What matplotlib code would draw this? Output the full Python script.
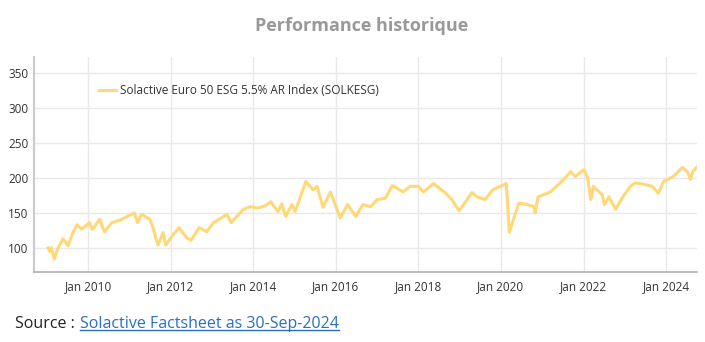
import numpy as np
import matplotlib
matplotlib.use('Agg')
import matplotlib.pyplot as plt
import matplotlib.dates as mdates
import pandas as pd
from matplotlib.lines import Line2D

plt.rcParams['font.family'] = ['Open Sans', 'DejaVu Sans']

# values
dates = ['2009-01-12', '2009-01-28', '2009-02-10', '2009-03-08', '2009-04-10',
         '2009-05-25', '2009-07-08', '2009-08-20', '2009-09-25', '2009-11-05',
         '2010-01-15', '2010-02-08', '2010-04-15', '2010-05-25', '2010-07-30',
         '2010-10-15', '2010-12-15', '2011-02-15', '2011-03-15', '2011-04-20',
         '2011-07-01', '2011-08-01', '2011-08-20', '2011-09-12', '2011-10-27',
         '2011-11-20', '2012-01-01', '2012-03-15', '2012-05-25', '2012-07-01',
         '2012-09-10', '2012-11-15', '2013-01-15', '2013-05-15', '2013-06-20',
         '2013-10-05', '2013-12-05', '2014-02-05', '2014-04-15', '2014-06-05',
         '2014-08-08', '2014-09-10', '2014-10-15', '2014-12-10', '2015-01-07',
         '2015-04-12', '2015-06-15', '2015-07-20', '2015-09-10', '2015-11-15',
         '2016-02-10', '2016-04-15', '2016-06-25', '2016-08-30', '2016-11-05',
         '2017-01-01', '2017-03-15', '2017-05-15', '2017-08-20', '2017-10-20',
         '2018-01-01', '2018-02-15', '2018-05-15', '2018-08-25', '2018-10-25',
         '2018-12-27', '2019-04-20', '2019-06-05', '2019-08-15', '2019-10-20',
         '2020-02-18', '2020-03-16', '2020-04-30', '2020-06-08', '2020-08-20',
         '2020-10-20', '2020-10-30', '2020-11-25', '2021-03-15', '2021-07-10',
         '2021-09-10', '2021-10-20', '2022-01-05', '2022-02-05', '2022-03-07',
         '2022-03-28', '2022-06-15', '2022-07-05', '2022-08-15', '2022-10-12',
         '2022-12-15', '2023-02-20', '2023-04-05', '2023-06-15', '2023-09-01',
         '2023-10-25', '2023-12-10', '2024-03-05', '2024-05-25', '2024-07-08',
         '2024-08-05', '2024-08-25', '2024-09-28']
values = [100, 95, 100, 84, 100,
          113, 103, 122, 133, 127,
          136, 126, 141, 123, 136,
          140, 145, 150, 136, 148,
          141, 128, 116, 104, 122,
          104, 114, 129, 114, 111,
          129, 123, 136, 148, 136,
          155, 159, 157, 160, 166,
          152, 163, 145, 162, 152,
          195, 183, 188, 158, 180,
          143, 162, 145, 162, 159,
          169, 171, 189, 180, 188,
          188, 180, 192, 179, 169,
          153, 179, 173, 169, 183,
          192, 122, 145, 164, 162,
          159, 150, 173, 180, 198,
          209, 202, 212, 201, 169,
          188, 176, 162, 173, 155,
          173, 188, 193, 191, 188,
          178, 195, 202, 215, 209,
          198, 209, 215]
series_name = 'Solactive Euro 50 ESG 5.5% AR Index (SOLKESG)'
yticks = [100, 150, 200, 250, 300, 350]
xtick_years = [2010, 2012, 2014, 2016, 2018, 2020, 2022, 2024]

x = pd.to_datetime(dates)

fig = plt.figure(figsize=(7.05, 3.42), dpi=100)
ax = fig.add_axes([34/705, 70/342, 663/705, 215/342])

ax.plot(x, values, color='#FFD878', lw=2.2, label=series_name, solid_joinstyle='round')

ax.set_ylim(65.5, 373)
ax.set_xlim(pd.Timestamp('2008-09-10'), pd.Timestamp('2024-10-01'))
ax.set_yticks(yticks)
ax.set_xticks([pd.Timestamp(f'{y}-01-01') for y in xtick_years])
ax.xaxis.set_major_formatter(mdates.DateFormatter('Jan %Y'))
ax.tick_params(length=0, labelsize=8.5, colors='#333333')
ax.tick_params(axis='x', pad=6)
ax.tick_params(axis='y', pad=4)
ax.grid(True, color='#e9e9e9', lw=1)
ax.set_axisbelow(True)
for s in ['top', 'right']:
    ax.spines[s].set_visible(False)
ax.spines['left'].set_color('#cccccc')
ax.spines['left'].set_linewidth(1.6)
ax.spines['bottom'].set_color('#b0b0b0')
ax.spines['bottom'].set_linewidth(1.2)

ax.legend(loc='center left', bbox_to_anchor=(93/705, 1 - 91/342),
          bbox_transform=fig.transFigure, frameon=False, fontsize=8.5,
          borderpad=0, handlelength=1.45, handletextpad=0.35,
          labelcolor='#333333')

fig.text(362/705, 1 - 26/342, 'Performance historique', ha='center', va='center',
         fontsize=13, fontweight='bold', color='#999999')

fig.text(15/705, 1 - 328/342, 'Source : ', ha='left', va='baseline',
         fontsize=11.5, color='#222222')
link = fig.text(80/705, 1 - 328/342, 'Solactive Factsheet as 30-Sep-2024',
                ha='left', va='baseline', fontsize=11.5, color='#2a6fc0')
fig.canvas.draw()
bb = link.get_window_extent(fig.canvas.get_renderer())
uy = 1 - 330/342
fig.add_artist(Line2D([bb.x0/705, bb.x1/705], [uy, uy], transform=fig.transFigure,
                      color='#2a6fc0', lw=1))

fig.savefig('out.png', dpi=100)
